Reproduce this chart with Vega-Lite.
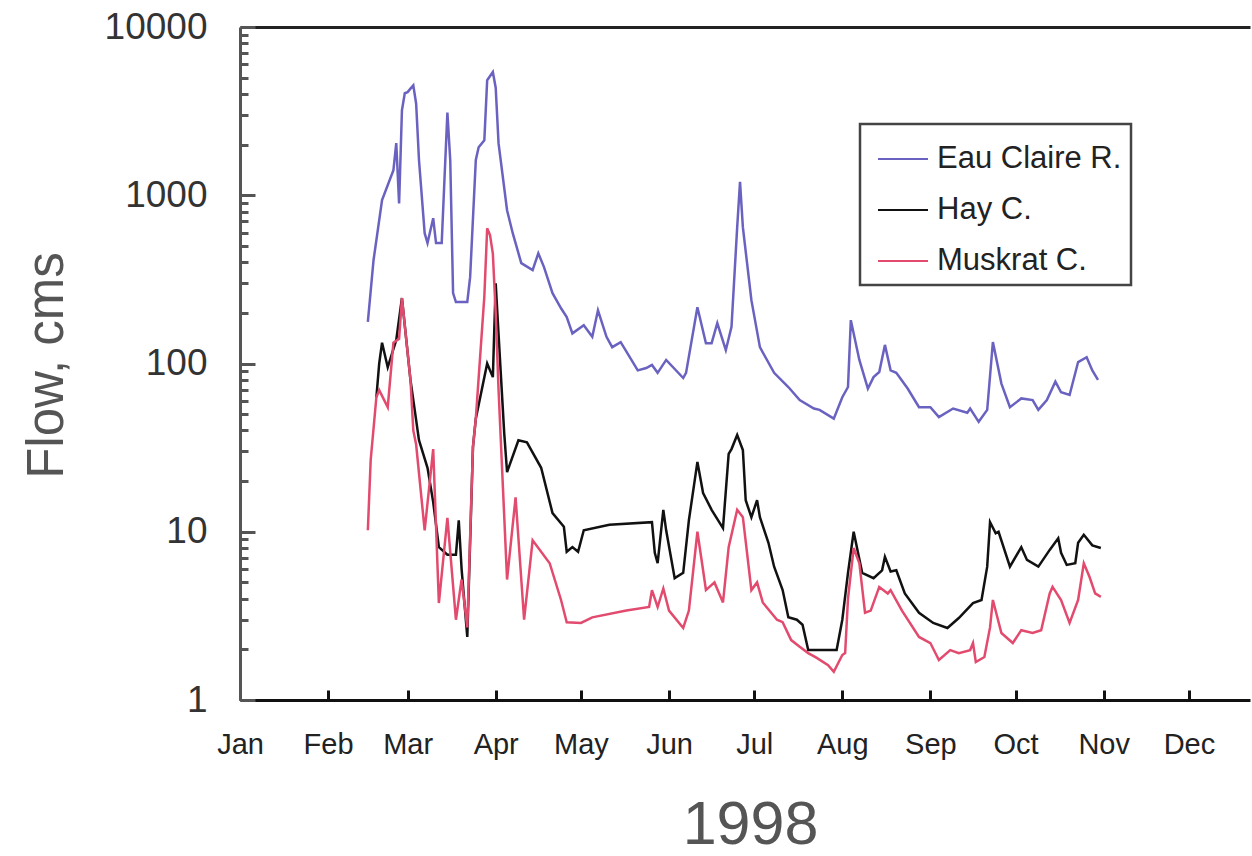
{
"$schema": "https://vega.github.io/schema/vega-lite/v6.json",
"autosize": "none",
"width": 1010,
"height": 673,
"padding": {"left": 240, "top": 27, "right": 2, "bottom": 156},
"background": "white",
"config": {"view": {"stroke": null}, "font": "Liberation Sans", "legend": {"strokeWidth": 2.5}},
"data": {"values": [
{"date":"1998-02-15","river":"Eau Claire R.","flow":177},
{"date":"1998-02-17","river":"Eau Claire R.","flow":411},
{"date":"1998-02-20","river":"Eau Claire R.","flow":935},
{"date":"1998-02-24","river":"Eau Claire R.","flow":1410},
{"date":"1998-02-25","river":"Eau Claire R.","flow":2040},
{"date":"1998-02-26","river":"Eau Claire R.","flow":895},
{"date":"1998-02-27","river":"Eau Claire R.","flow":3200},
{"date":"1998-02-28","river":"Eau Claire R.","flow":4040},
{"date":"1998-03-01","river":"Eau Claire R.","flow":4100},
{"date":"1998-03-02","river":"Eau Claire R.","flow":4300},
{"date":"1998-03-03","river":"Eau Claire R.","flow":4500},
{"date":"1998-03-04","river":"Eau Claire R.","flow":3500},
{"date":"1998-03-05","river":"Eau Claire R.","flow":1620},
{"date":"1998-03-07","river":"Eau Claire R.","flow":595},
{"date":"1998-03-08","river":"Eau Claire R.","flow":520},
{"date":"1998-03-10","river":"Eau Claire R.","flow":730},
{"date":"1998-03-11","river":"Eau Claire R.","flow":520},
{"date":"1998-03-13","river":"Eau Claire R.","flow":520},
{"date":"1998-03-14","river":"Eau Claire R.","flow":1280},
{"date":"1998-03-15","river":"Eau Claire R.","flow":3100},
{"date":"1998-03-16","river":"Eau Claire R.","flow":1620},
{"date":"1998-03-17","river":"Eau Claire R.","flow":262},
{"date":"1998-03-18","river":"Eau Claire R.","flow":232},
{"date":"1998-03-22","river":"Eau Claire R.","flow":232},
{"date":"1998-03-23","river":"Eau Claire R.","flow":326},
{"date":"1998-03-25","river":"Eau Claire R.","flow":1620},
{"date":"1998-03-26","river":"Eau Claire R.","flow":1930},
{"date":"1998-03-28","river":"Eau Claire R.","flow":2125},
{"date":"1998-03-29","river":"Eau Claire R.","flow":4830},
{"date":"1998-03-31","river":"Eau Claire R.","flow":5400},
{"date":"1998-04-01","river":"Eau Claire R.","flow":4360},
{"date":"1998-04-02","river":"Eau Claire R.","flow":2040},
{"date":"1998-04-05","river":"Eau Claire R.","flow":815},
{"date":"1998-04-07","river":"Eau Claire R.","flow":595},
{"date":"1998-04-10","river":"Eau Claire R.","flow":395},
{"date":"1998-04-14","river":"Eau Claire R.","flow":359},
{"date":"1998-04-16","river":"Eau Claire R.","flow":452},
{"date":"1998-04-18","river":"Eau Claire R.","flow":374},
{"date":"1998-04-21","river":"Eau Claire R.","flow":262},
{"date":"1998-04-24","river":"Eau Claire R.","flow":213},
{"date":"1998-04-26","river":"Eau Claire R.","flow":189},
{"date":"1998-04-28","river":"Eau Claire R.","flow":151},
{"date":"1998-05-02","river":"Eau Claire R.","flow":169},
{"date":"1998-05-05","river":"Eau Claire R.","flow":144},
{"date":"1998-05-07","river":"Eau Claire R.","flow":207},
{"date":"1998-05-10","river":"Eau Claire R.","flow":144},
{"date":"1998-05-12","river":"Eau Claire R.","flow":125},
{"date":"1998-05-15","river":"Eau Claire R.","flow":134},
{"date":"1998-05-21","river":"Eau Claire R.","flow":91},
{"date":"1998-05-24","river":"Eau Claire R.","flow":94},
{"date":"1998-05-26","river":"Eau Claire R.","flow":98},
{"date":"1998-05-28","river":"Eau Claire R.","flow":88},
{"date":"1998-05-31","river":"Eau Claire R.","flow":105},
{"date":"1998-06-06","river":"Eau Claire R.","flow":82},
{"date":"1998-06-07","river":"Eau Claire R.","flow":88},
{"date":"1998-06-11","river":"Eau Claire R.","flow":216},
{"date":"1998-06-14","river":"Eau Claire R.","flow":132},
{"date":"1998-06-16","river":"Eau Claire R.","flow":132},
{"date":"1998-06-18","river":"Eau Claire R.","flow":174},
{"date":"1998-06-21","river":"Eau Claire R.","flow":120},
{"date":"1998-06-23","river":"Eau Claire R.","flow":165},
{"date":"1998-06-25","river":"Eau Claire R.","flow":646},
{"date":"1998-06-26","river":"Eau Claire R.","flow":1200},
{"date":"1998-06-27","river":"Eau Claire R.","flow":646},
{"date":"1998-06-30","river":"Eau Claire R.","flow":238},
{"date":"1998-07-03","river":"Eau Claire R.","flow":125},
{"date":"1998-07-08","river":"Eau Claire R.","flow":88},
{"date":"1998-07-13","river":"Eau Claire R.","flow":72.5},
{"date":"1998-07-17","river":"Eau Claire R.","flow":60.6},
{"date":"1998-07-22","river":"Eau Claire R.","flow":54},
{"date":"1998-07-24","river":"Eau Claire R.","flow":53},
{"date":"1998-07-29","river":"Eau Claire R.","flow":47},
{"date":"1998-08-01","river":"Eau Claire R.","flow":63},
{"date":"1998-08-03","river":"Eau Claire R.","flow":72.5},
{"date":"1998-08-04","river":"Eau Claire R.","flow":181},
{"date":"1998-08-07","river":"Eau Claire R.","flow":105},
{"date":"1998-08-10","river":"Eau Claire R.","flow":71},
{"date":"1998-08-12","river":"Eau Claire R.","flow":83},
{"date":"1998-08-14","river":"Eau Claire R.","flow":89},
{"date":"1998-08-16","river":"Eau Claire R.","flow":129},
{"date":"1998-08-18","river":"Eau Claire R.","flow":91},
{"date":"1998-08-20","river":"Eau Claire R.","flow":88},
{"date":"1998-08-24","river":"Eau Claire R.","flow":71},
{"date":"1998-08-28","river":"Eau Claire R.","flow":55},
{"date":"1998-09-01","river":"Eau Claire R.","flow":55},
{"date":"1998-09-04","river":"Eau Claire R.","flow":48},
{"date":"1998-09-09","river":"Eau Claire R.","flow":54},
{"date":"1998-09-14","river":"Eau Claire R.","flow":51},
{"date":"1998-09-15","river":"Eau Claire R.","flow":54},
{"date":"1998-09-18","river":"Eau Claire R.","flow":45},
{"date":"1998-09-21","river":"Eau Claire R.","flow":53},
{"date":"1998-09-23","river":"Eau Claire R.","flow":134},
{"date":"1998-09-26","river":"Eau Claire R.","flow":76},
{"date":"1998-09-29","river":"Eau Claire R.","flow":55},
{"date":"1998-10-03","river":"Eau Claire R.","flow":62},
{"date":"1998-10-07","river":"Eau Claire R.","flow":60.6},
{"date":"1998-10-09","river":"Eau Claire R.","flow":53},
{"date":"1998-10-12","river":"Eau Claire R.","flow":60.6},
{"date":"1998-10-15","river":"Eau Claire R.","flow":78},
{"date":"1998-10-17","river":"Eau Claire R.","flow":67.5},
{"date":"1998-10-20","river":"Eau Claire R.","flow":65},
{"date":"1998-10-23","river":"Eau Claire R.","flow":102},
{"date":"1998-10-26","river":"Eau Claire R.","flow":109},
{"date":"1998-10-28","river":"Eau Claire R.","flow":91},
{"date":"1998-10-30","river":"Eau Claire R.","flow":80},
{"date":"1998-02-18","river":"Hay C.","flow":63},
{"date":"1998-02-19","river":"Hay C.","flow":100},
{"date":"1998-02-20","river":"Hay C.","flow":133},
{"date":"1998-02-22","river":"Hay C.","flow":95},
{"date":"1998-02-25","river":"Hay C.","flow":138},
{"date":"1998-02-27","river":"Hay C.","flow":245},
{"date":"1998-03-02","river":"Hay C.","flow":80},
{"date":"1998-03-05","river":"Hay C.","flow":35},
{"date":"1998-03-08","river":"Hay C.","flow":24},
{"date":"1998-03-10","river":"Hay C.","flow":15},
{"date":"1998-03-12","river":"Hay C.","flow":8.1},
{"date":"1998-03-15","river":"Hay C.","flow":7.3},
{"date":"1998-03-18","river":"Hay C.","flow":7.3},
{"date":"1998-03-19","river":"Hay C.","flow":11.7},
{"date":"1998-03-20","river":"Hay C.","flow":6},
{"date":"1998-03-22","river":"Hay C.","flow":2.37},
{"date":"1998-03-24","river":"Hay C.","flow":32},
{"date":"1998-03-25","river":"Hay C.","flow":47},
{"date":"1998-03-29","river":"Hay C.","flow":100},
{"date":"1998-03-31","river":"Hay C.","flow":83},
{"date":"1998-04-01","river":"Hay C.","flow":300},
{"date":"1998-04-02","river":"Hay C.","flow":150},
{"date":"1998-04-04","river":"Hay C.","flow":38.6},
{"date":"1998-04-05","river":"Hay C.","flow":22.6},
{"date":"1998-04-09","river":"Hay C.","flow":35},
{"date":"1998-04-12","river":"Hay C.","flow":34},
{"date":"1998-04-17","river":"Hay C.","flow":24},
{"date":"1998-04-21","river":"Hay C.","flow":12.9},
{"date":"1998-04-25","river":"Hay C.","flow":10.7},
{"date":"1998-04-26","river":"Hay C.","flow":7.6},
{"date":"1998-04-28","river":"Hay C.","flow":8.1},
{"date":"1998-04-30","river":"Hay C.","flow":7.6},
{"date":"1998-05-02","river":"Hay C.","flow":10.2},
{"date":"1998-05-11","river":"Hay C.","flow":11},
{"date":"1998-05-26","river":"Hay C.","flow":11.4},
{"date":"1998-05-27","river":"Hay C.","flow":7.5},
{"date":"1998-05-28","river":"Hay C.","flow":6.5},
{"date":"1998-05-30","river":"Hay C.","flow":13.5},
{"date":"1998-05-31","river":"Hay C.","flow":10.2},
{"date":"1998-06-03","river":"Hay C.","flow":5.3},
{"date":"1998-06-06","river":"Hay C.","flow":5.7},
{"date":"1998-06-08","river":"Hay C.","flow":11.7},
{"date":"1998-06-11","river":"Hay C.","flow":26},
{"date":"1998-06-13","river":"Hay C.","flow":17},
{"date":"1998-06-16","river":"Hay C.","flow":13.5},
{"date":"1998-06-20","river":"Hay C.","flow":10.5},
{"date":"1998-06-22","river":"Hay C.","flow":29},
{"date":"1998-06-23","river":"Hay C.","flow":31},
{"date":"1998-06-25","river":"Hay C.","flow":37.6},
{"date":"1998-06-27","river":"Hay C.","flow":30.6},
{"date":"1998-06-28","river":"Hay C.","flow":15.4},
{"date":"1998-06-30","river":"Hay C.","flow":12.2},
{"date":"1998-07-02","river":"Hay C.","flow":15.4},
{"date":"1998-07-03","river":"Hay C.","flow":12.2},
{"date":"1998-07-06","river":"Hay C.","flow":8.6},
{"date":"1998-07-08","river":"Hay C.","flow":6.2},
{"date":"1998-07-11","river":"Hay C.","flow":4.5},
{"date":"1998-07-13","river":"Hay C.","flow":3.1},
{"date":"1998-07-16","river":"Hay C.","flow":3.0},
{"date":"1998-07-18","river":"Hay C.","flow":2.8},
{"date":"1998-07-20","river":"Hay C.","flow":1.98},
{"date":"1998-07-30","river":"Hay C.","flow":1.98},
{"date":"1998-08-01","river":"Hay C.","flow":3.0},
{"date":"1998-08-03","river":"Hay C.","flow":5.7},
{"date":"1998-08-05","river":"Hay C.","flow":10},
{"date":"1998-08-08","river":"Hay C.","flow":5.7},
{"date":"1998-08-12","river":"Hay C.","flow":5.3},
{"date":"1998-08-15","river":"Hay C.","flow":5.9},
{"date":"1998-08-16","river":"Hay C.","flow":7.1},
{"date":"1998-08-18","river":"Hay C.","flow":5.8},
{"date":"1998-08-20","river":"Hay C.","flow":5.9},
{"date":"1998-08-23","river":"Hay C.","flow":4.3},
{"date":"1998-08-28","river":"Hay C.","flow":3.3},
{"date":"1998-09-02","river":"Hay C.","flow":2.87},
{"date":"1998-09-07","river":"Hay C.","flow":2.68},
{"date":"1998-09-11","river":"Hay C.","flow":3.07},
{"date":"1998-09-16","river":"Hay C.","flow":3.77},
{"date":"1998-09-19","river":"Hay C.","flow":3.93},
{"date":"1998-09-21","river":"Hay C.","flow":6.2},
{"date":"1998-09-22","river":"Hay C.","flow":11.4},
{"date":"1998-09-24","river":"Hay C.","flow":9.8},
{"date":"1998-09-25","river":"Hay C.","flow":10},
{"date":"1998-09-29","river":"Hay C.","flow":6.2},
{"date":"1998-10-03","river":"Hay C.","flow":8.1},
{"date":"1998-10-05","river":"Hay C.","flow":6.8},
{"date":"1998-10-09","river":"Hay C.","flow":6.2},
{"date":"1998-10-13","river":"Hay C.","flow":7.8},
{"date":"1998-10-16","river":"Hay C.","flow":9.15},
{"date":"1998-10-17","river":"Hay C.","flow":7.5},
{"date":"1998-10-19","river":"Hay C.","flow":6.35},
{"date":"1998-10-22","river":"Hay C.","flow":6.5},
{"date":"1998-10-23","river":"Hay C.","flow":8.6},
{"date":"1998-10-25","river":"Hay C.","flow":9.6},
{"date":"1998-10-28","river":"Hay C.","flow":8.3},
{"date":"1998-10-31","river":"Hay C.","flow":8.0},
{"date":"1998-02-15","river":"Muskrat C.","flow":10.2},
{"date":"1998-02-16","river":"Muskrat C.","flow":26.7},
{"date":"1998-02-18","river":"Muskrat C.","flow":63},
{"date":"1998-02-19","river":"Muskrat C.","flow":69.5},
{"date":"1998-02-22","river":"Muskrat C.","flow":55},
{"date":"1998-02-24","river":"Muskrat C.","flow":133},
{"date":"1998-02-26","river":"Muskrat C.","flow":140},
{"date":"1998-02-27","river":"Muskrat C.","flow":245},
{"date":"1998-03-02","river":"Muskrat C.","flow":80},
{"date":"1998-03-03","river":"Muskrat C.","flow":40},
{"date":"1998-03-04","river":"Muskrat C.","flow":33},
{"date":"1998-03-07","river":"Muskrat C.","flow":10.2},
{"date":"1998-03-10","river":"Muskrat C.","flow":31},
{"date":"1998-03-12","river":"Muskrat C.","flow":3.77},
{"date":"1998-03-15","river":"Muskrat C.","flow":12.1},
{"date":"1998-03-18","river":"Muskrat C.","flow":3.0},
{"date":"1998-03-20","river":"Muskrat C.","flow":5.2},
{"date":"1998-03-22","river":"Muskrat C.","flow":2.7},
{"date":"1998-03-24","river":"Muskrat C.","flow":32},
{"date":"1998-03-25","river":"Muskrat C.","flow":47},
{"date":"1998-03-28","river":"Muskrat C.","flow":250},
{"date":"1998-03-29","river":"Muskrat C.","flow":636},
{"date":"1998-03-30","river":"Muskrat C.","flow":580},
{"date":"1998-03-31","river":"Muskrat C.","flow":450},
{"date":"1998-04-01","river":"Muskrat C.","flow":200},
{"date":"1998-04-02","river":"Muskrat C.","flow":70},
{"date":"1998-04-05","river":"Muskrat C.","flow":5.2},
{"date":"1998-04-08","river":"Muskrat C.","flow":16},
{"date":"1998-04-11","river":"Muskrat C.","flow":3.0},
{"date":"1998-04-14","river":"Muskrat C.","flow":8.9},
{"date":"1998-04-20","river":"Muskrat C.","flow":6.5},
{"date":"1998-04-24","river":"Muskrat C.","flow":3.93},
{"date":"1998-04-26","river":"Muskrat C.","flow":2.9},
{"date":"1998-05-01","river":"Muskrat C.","flow":2.87},
{"date":"1998-05-05","river":"Muskrat C.","flow":3.1},
{"date":"1998-05-17","river":"Muskrat C.","flow":3.4},
{"date":"1998-05-25","river":"Muskrat C.","flow":3.57},
{"date":"1998-05-26","river":"Muskrat C.","flow":4.5},
{"date":"1998-05-28","river":"Muskrat C.","flow":3.57},
{"date":"1998-05-30","river":"Muskrat C.","flow":4.6},
{"date":"1998-06-01","river":"Muskrat C.","flow":3.4},
{"date":"1998-06-06","river":"Muskrat C.","flow":2.68},
{"date":"1998-06-08","river":"Muskrat C.","flow":3.4},
{"date":"1998-06-11","river":"Muskrat C.","flow":10},
{"date":"1998-06-13","river":"Muskrat C.","flow":5.9},
{"date":"1998-06-14","river":"Muskrat C.","flow":4.5},
{"date":"1998-06-17","river":"Muskrat C.","flow":5.0},
{"date":"1998-06-20","river":"Muskrat C.","flow":3.8},
{"date":"1998-06-22","river":"Muskrat C.","flow":8.1},
{"date":"1998-06-25","river":"Muskrat C.","flow":13.5},
{"date":"1998-06-27","river":"Muskrat C.","flow":12.2},
{"date":"1998-06-30","river":"Muskrat C.","flow":4.5},
{"date":"1998-07-02","river":"Muskrat C.","flow":5.0},
{"date":"1998-07-04","river":"Muskrat C.","flow":3.8},
{"date":"1998-07-09","river":"Muskrat C.","flow":3.0},
{"date":"1998-07-11","river":"Muskrat C.","flow":2.9},
{"date":"1998-07-14","river":"Muskrat C.","flow":2.27},
{"date":"1998-07-17","river":"Muskrat C.","flow":2.07},
{"date":"1998-07-20","river":"Muskrat C.","flow":1.9},
{"date":"1998-07-23","river":"Muskrat C.","flow":1.78},
{"date":"1998-07-27","river":"Muskrat C.","flow":1.61},
{"date":"1998-07-29","river":"Muskrat C.","flow":1.47},
{"date":"1998-08-01","river":"Muskrat C.","flow":1.85},
{"date":"1998-08-02","river":"Muskrat C.","flow":1.9},
{"date":"1998-08-03","river":"Muskrat C.","flow":4.0},
{"date":"1998-08-05","river":"Muskrat C.","flow":8.0},
{"date":"1998-08-07","river":"Muskrat C.","flow":6.5},
{"date":"1998-08-09","river":"Muskrat C.","flow":3.3},
{"date":"1998-08-11","river":"Muskrat C.","flow":3.4},
{"date":"1998-08-14","river":"Muskrat C.","flow":4.7},
{"date":"1998-08-17","river":"Muskrat C.","flow":4.3},
{"date":"1998-08-18","river":"Muskrat C.","flow":4.5},
{"date":"1998-08-22","river":"Muskrat C.","flow":3.4},
{"date":"1998-08-28","river":"Muskrat C.","flow":2.37},
{"date":"1998-09-01","river":"Muskrat C.","flow":2.18},
{"date":"1998-09-04","river":"Muskrat C.","flow":1.73},
{"date":"1998-09-08","river":"Muskrat C.","flow":1.98},
{"date":"1998-09-11","river":"Muskrat C.","flow":1.9},
{"date":"1998-09-15","river":"Muskrat C.","flow":1.98},
{"date":"1998-09-16","river":"Muskrat C.","flow":2.18},
{"date":"1998-09-17","river":"Muskrat C.","flow":1.68},
{"date":"1998-09-20","river":"Muskrat C.","flow":1.8},
{"date":"1998-09-22","river":"Muskrat C.","flow":2.7},
{"date":"1998-09-23","river":"Muskrat C.","flow":3.93},
{"date":"1998-09-26","river":"Muskrat C.","flow":2.5},
{"date":"1998-09-30","river":"Muskrat C.","flow":2.18},
{"date":"1998-10-03","river":"Muskrat C.","flow":2.6},
{"date":"1998-10-07","river":"Muskrat C.","flow":2.5},
{"date":"1998-10-10","river":"Muskrat C.","flow":2.6},
{"date":"1998-10-13","river":"Muskrat C.","flow":4.3},
{"date":"1998-10-14","river":"Muskrat C.","flow":4.7},
{"date":"1998-10-17","river":"Muskrat C.","flow":3.93},
{"date":"1998-10-20","river":"Muskrat C.","flow":2.87},
{"date":"1998-10-23","river":"Muskrat C.","flow":3.93},
{"date":"1998-10-25","river":"Muskrat C.","flow":6.5},
{"date":"1998-10-27","river":"Muskrat C.","flow":5.4},
{"date":"1998-10-29","river":"Muskrat C.","flow":4.3},
{"date":"1998-10-31","river":"Muskrat C.","flow":4.1}
]},
"encoding": {
  "y": {"field": "flow", "type": "quantitative",
    "scale": {"type": "log", "domain": [1, 10000]},
    "axis": {
      "values": [1,2,3,4,5,6,7,8,9,10,20,30,40,50,60,70,80,90,100,200,300,400,500,600,700,800,900,1000,2000,3000,4000,5000,6000,7000,8000,9000,10000],
      "labelExpr": "indexof([1,10,100,1000,10000], datum.value) >= 0 ? format(datum.value, 'd') : ''",
      "labelOverlap": false,
      "labelFlush": false,
      "labelFontSize": 37,
      "labelColor": "#333333",
      "labelPadding": 48,
      "tickSize": {"condition": {"test": "indexof([1,10,100,1000,10000], datum.value) >= 0", "value": -15}, "value": -8},
      "tickWidth": 3,
      "tickColor": "#555555",
      "domainColor": "#555555",
      "domainWidth": 3,
      "grid": false,
      "title": "Flow, cms",
      "titleFontSize": 51,
      "titleFontWeight": "normal",
      "titleColor": "#555555",
      "titleAngle": -90,
      "titleX": -178,
      "titleY": 338,
      "titleAlign": "center",
      "titleBaseline": "alphabetic"
    }
  }
},
"layer": [
  {
    "mark": {"type": "line", "strokeWidth": 2.5, "interpolate": "linear"},
    "encoding": {
      "x": {"field": "date", "type": "temporal",
        "scale": {"type": "utc", "domain": [{"year": 1998, "month": 1, "date": 1, "utc": true}, {"year": 1998, "month": 12, "date": 22, "hours": 12, "utc": true}]},
        "axis": {
          "values": [
            {"year": 1998, "month": 1, "date": 1, "utc": true},
            {"year": 1998, "month": 2, "date": 1, "utc": true},
            {"year": 1998, "month": 3, "date": 1, "utc": true},
            {"year": 1998, "month": 4, "date": 1, "utc": true},
            {"year": 1998, "month": 5, "date": 1, "utc": true},
            {"year": 1998, "month": 6, "date": 1, "utc": true},
            {"year": 1998, "month": 7, "date": 1, "utc": true},
            {"year": 1998, "month": 8, "date": 1, "utc": true},
            {"year": 1998, "month": 9, "date": 1, "utc": true},
            {"year": 1998, "month": 10, "date": 1, "utc": true},
            {"year": 1998, "month": 11, "date": 1, "utc": true},
            {"year": 1998, "month": 12, "date": 1, "utc": true}
          ],
          "format": "%b",
          "labelFlush": false,
          "labelOverlap": false,
          "labelFontSize": 29,
          "labelColor": "#222222",
          "labelPadding": 40,
          "tickSize": -10,
          "tickWidth": 3,
          "tickColor": "#111111",
          "domainColor": "#111111",
          "domainWidth": 3,
          "grid": false,
          "title": "1998",
          "titleFontSize": 61,
          "titleFontWeight": "normal",
          "titleColor": "#555555",
          "titleX": 510,
          "titleY": 156,
          "titleAlign": "center",
          "titleBaseline": "bottom"
        }
      },
      "color": {"field": "river", "type": "nominal",
        "scale": {"domain": ["Eau Claire R.", "Hay C.", "Muskrat C."], "range": ["#6a62c0", "#111111", "#e24b6e"]},
        "legend": {
          "orient": "none", "legendX": 620, "legendY": 97,
          "title": null,
          "symbolType": "stroke", "symbolSize": 2500, "symbolStrokeWidth": 2,
          "symbolOffset": 8,
          "labelFontSize": 31, "labelColor": "#222222", "labelOffset": 8, "labelLimit": 0,
          "padding": 9, "rowPadding": 10,
          "strokeColor": "#444444", "fillColor": "white"
        }
      }
    }
  },
  {
    "mark": {"type": "line", "opacity": 0},
    "encoding": {
      "x": {"field": "date", "type": "temporal",
        "axis": {"orient": "top", "labels": false, "ticks": false, "title": null, "domainColor": "#222222", "domainWidth": 3, "grid": false}},
      "detail": {"field": "river"}
    }
  }
],
"resolve": {"axis": {"x": "independent"}}
}
